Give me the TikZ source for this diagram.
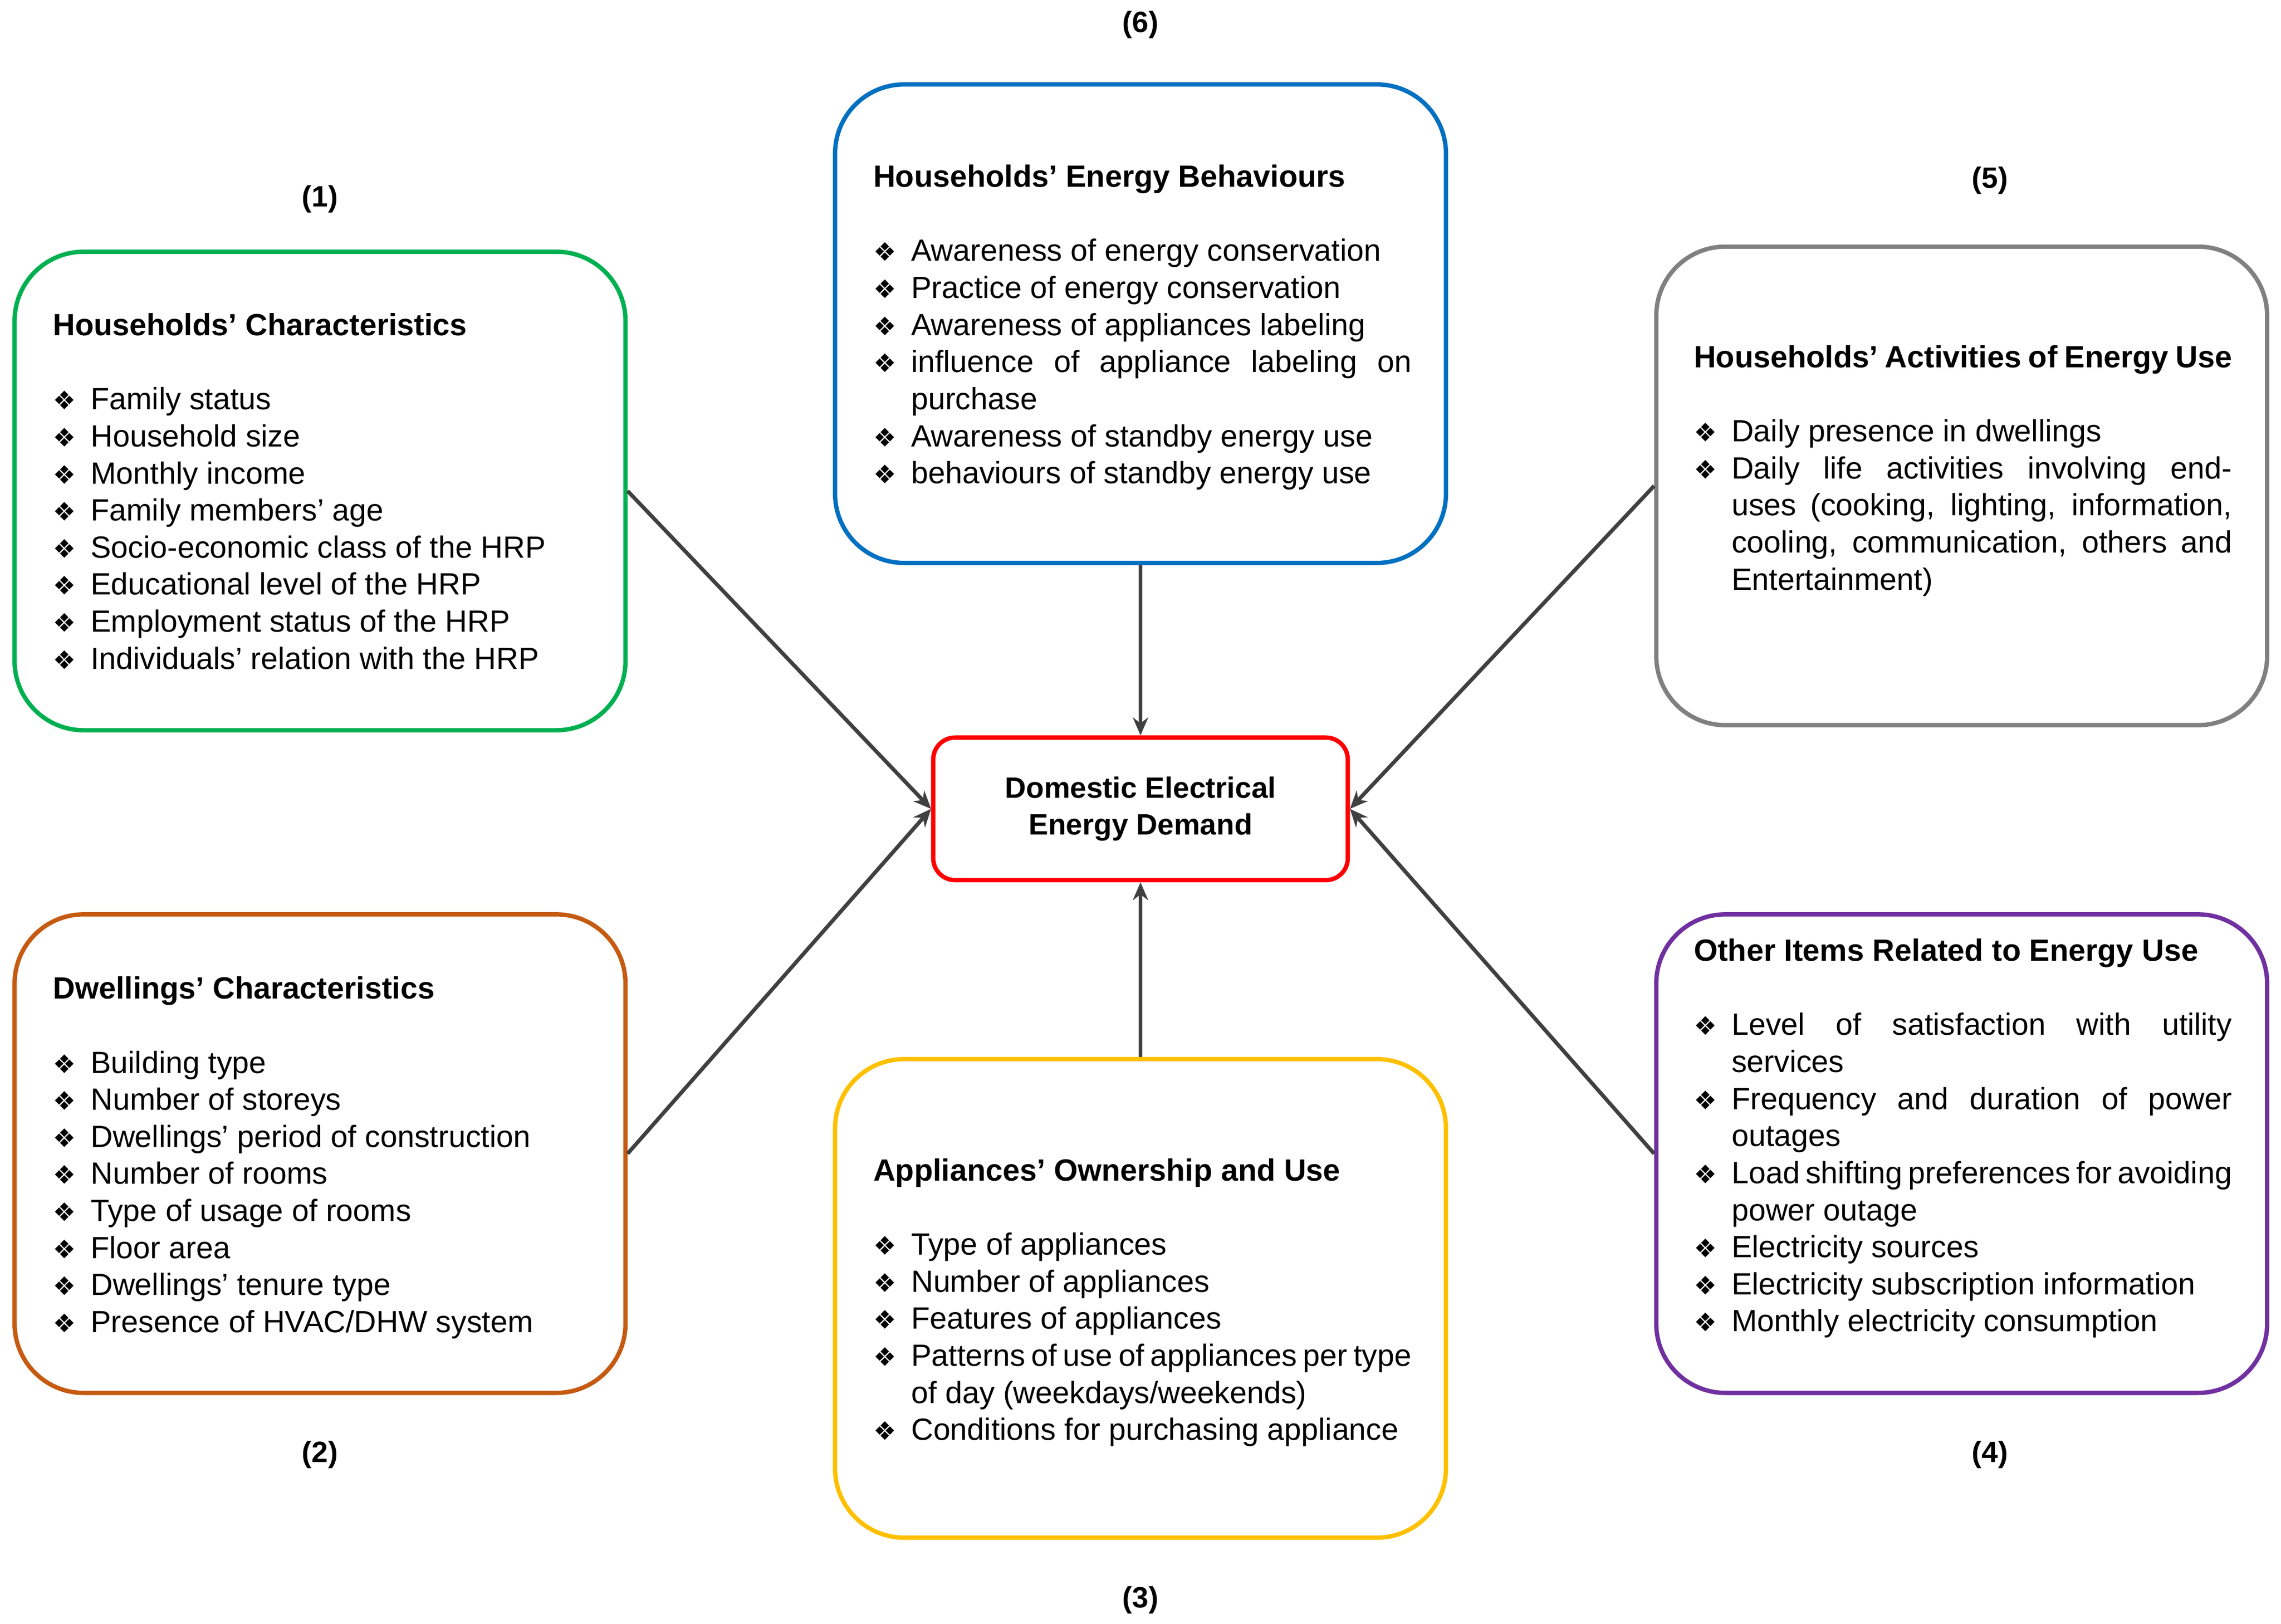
\documentclass[tikz,border=0pt]{standalone}
\usepackage{fontspec}
\setmainfont{Liberation Sans}
\newfontfamily\djv{DejaVu Sans}
\usetikzlibrary{arrows.meta}
\definecolor{cg}{HTML}{00B050}
\definecolor{co}{HTML}{C55A11}
\definecolor{cb}{HTML}{0070C0}
\definecolor{cy}{HTML}{FFC000}
\definecolor{cgr}{HTML}{808080}
\definecolor{cp}{HTML}{7030A0}
\definecolor{cr}{HTML}{FF0000}
\definecolor{ar}{HTML}{404040}
\newcommand{\itm}[1]{\par\noindent\hangindent=0.52cm\hangafter=1\makebox[0.52cm][l]{{\djv\fontsize{10}{14.5}\selectfont ❖}}#1\par}
\begin{document}
\begin{tikzpicture}[x=0.02cm,y=-0.02cm,
 box/.style={draw=#1,line width=1.7pt,rounded corners=0.95cm,minimum width=8.4cm,minimum height=6.58cm,inner sep=0},
 txt/.style={anchor=north west,inner sep=0,text width=7.4cm,align=justify,font=\fontsize{12}{14.5}\selectfont},
 lab/.style={font=\bfseries\fontsize{11.5}{14.5}\selectfont},
 arr/.style={draw=ar,line width=1.5pt,-{Stealth[length=7pt,width=6pt]}}]
\useasboundingbox (0,0) rectangle (1568,1116);
\node[box=cg] (b1) at (220,337.5) {};
\node[box=co] (b2) at (220,793) {};
\node[box=cb] (b6) at (784,222.5) {};
\node[box=cy] (b3) at (784,892.5) {};
\node[box=cgr] (b5) at (1348.5,334) {};
\node[box=cp] (b4) at (1348.5,793) {};
\node[draw=cr,line width=1.7pt,rounded corners=0.3cm,minimum width=5.7cm,minimum height=1.96cm,align=center,font=\bfseries\fontsize{11.5}{14.5}\selectfont] (c) at (784,556) {Domestic Electrical\\Energy Demand};
\node[lab] (l1) at (220,137) {(1)};
\node[lab] (l2) at (220,1000) {(2)};
\node[lab] (l6) at (784,17) {(6)};
\node[lab] (l3) at (784,1100) {(3)};
\node[lab] (l5) at (1368,124) {(5)};
\node[lab] (l4) at (1368,1000) {(4)};
\node[txt] (t1) at (36,215) {\hyphenpenalty=10000\textbf{Households’ Characteristics}\par\vspace{14.5pt}
\itm{Family status}\itm{Household size}\itm{Monthly income}\itm{Family members’ age}\itm{Socio-economic class of the HRP}\itm{Educational level of the HRP}\itm{Employment status of the HRP}\itm{Individuals' relation with the HRP}};
\node[txt] (t2) at (36,671) {\hyphenpenalty=10000\textbf{Dwellings’ Characteristics}\par\vspace{14.5pt}
\itm{Building type}\itm{Number of storeys}\itm{Dwellings’ period of construction}\itm{Number of rooms}\itm{Type of usage of rooms}\itm{Floor area}\itm{Dwellings’ tenure type}\itm{Presence of HVAC/DHW system}};
\node[txt] (t6) at (600,113) {\hyphenpenalty=10000\textbf{Households’ Energy Behaviours}\par\vspace{14.5pt}
\itm{Awareness of energy conservation}\itm{Practice of energy conservation}\itm{Awareness of appliances labeling}\itm{influence of appliance labeling on purchase}\itm{Awareness of standby energy use}\itm{behaviours of standby energy use}};
\node[txt] (t3) at (600,796) {\hyphenpenalty=10000\textbf{Appliances’ Ownership and Use}\par\vspace{14.5pt}
\itm{Type of appliances}\itm{Number of appliances}\itm{Features of appliances}\itm{Patterns of use of appliances per type of day (weekdays/weekends)}\itm{Conditions for purchasing appliance}};
\node[txt] (t5) at (1164,237) {\hyphenpenalty=10000\textbf{Households’ Activities of Energy Use}\par\vspace{14.5pt}
\itm{Daily presence in dwellings}\itm{Daily life activities involving end-uses (cooking, lighting, information, cooling, communication, others and Entertainment)}};
\node[txt] (t4) at (1164,645) {\hyphenpenalty=10000\textbf{Other Items Related to Energy Use}\par\vspace{14.5pt}
\itm{Level of satisfaction with utility services}\itm{Frequency and duration of power outages}\itm{Load shifting preferences for avoiding power outage}\itm{Electricity sources}\itm{Electricity subscription information}\itm{Monthly electricity consumption}};
\draw[arr] (b1.east) -- (c.west);
\draw[arr] (b2.east) -- (c.west);
\draw[arr] (b6.south) -- (c.north);
\draw[arr] (b3.north) -- (c.south);
\draw[arr] (b5.west) -- (c.east);
\draw[arr] (b4.west) -- (c.east);
\end{tikzpicture}
\end{document}
